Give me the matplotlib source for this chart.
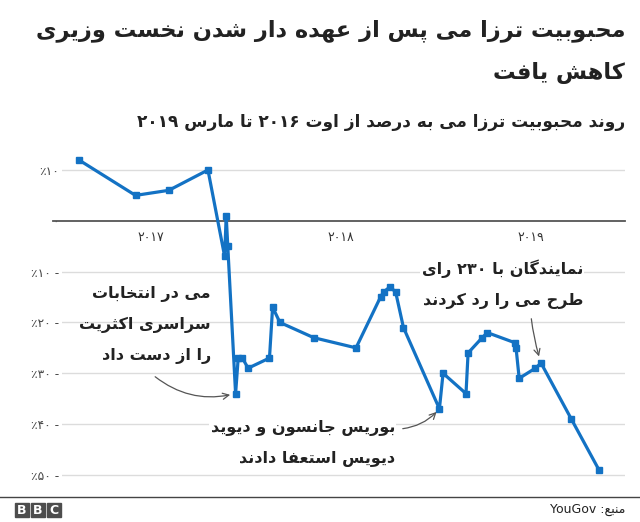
import re
import pandas as pd
import matplotlib
matplotlib.use('Agg')
import matplotlib.pyplot as plt
from matplotlib.lines import Line2D
from matplotlib.patches import Rectangle
from matplotlib.ticker import FuncFormatter

# net favourability of Theresa May (%)
dates = ['2016-08-16', '2016-12-03', '2017-02-05', '2017-04-21', '2017-05-23', '2017-05-26', '2017-05-29',
         '2017-06-13', '2017-06-18', '2017-06-26', '2017-07-07', '2017-08-17', '2017-08-23', '2017-09-06',
         '2017-11-10', '2018-01-30', '2018-03-18', '2018-03-24', '2018-04-05', '2018-04-16', '2018-05-01',
         '2018-07-09', '2018-07-16', '2018-08-29', '2018-09-02', '2018-09-29', '2018-10-09', '2018-12-01',
         '2018-12-03', '2018-12-09', '2019-01-09', '2019-01-20', '2019-03-19', '2019-05-11']
values = [12, 5, 6, 10, -7, 1, -5, -34, -27, -27, -29, -27, -17, -20, -23, -25, -15, -14, -13, -14, -21,
          -37, -30, -34, -26, -23, -22, -24, -25, -31, -29, -28, -39, -49]

year_ticks = ['2017-01-01', '2018-01-01', '2019-01-01']
year_labels = ['۲۰۱۷', '۲۰۱۸', '۲۰۱۹']
y_ticks = [10, 0, -10, -20, -30, -40, -50]

title = ['محبوبیت ترزا می پس از عهده دار شدن نخست وزیری', 'کاهش یافت']
subtitle = 'روند محبوبیت ترزا می به درصد از اوت ۲۰۱۶ تا مارس ۲۰۱۹'
source = 'منبع: YouGov'
note_election = 'می در انتخابات\nسراسری اکثریت\nرا از دست داد'
note_resign = 'بوریس جانسون و دیوید\nدیویس استعفا دادند'
note_vote = 'نمایندگان با ۲۳۰ رای\nطرح می را رد کردند'
i_election, i_resign, i_vote = 7, 21, 31

# matplotlib has no arabic shaping, so pick presentation forms by hand
DUAL = dict(zip('بتثجحخسشصضطظعغفقکگلمنهیپچ',
                [0xFE8F, 0xFE95, 0xFE99, 0xFE9D, 0xFEA1, 0xFEA5, 0xFEB1, 0xFEB5, 0xFEB9, 0xFEBD,
                 0xFEC1, 0xFEC5, 0xFEC9, 0xFECD, 0xFED1, 0xFED5, 0xFB8E, 0xFB92, 0xFEDD, 0xFEE1,
                 0xFEE5, 0xFEE9, 0xFBFC, 0xFB56, 0xFB7A]))
RIGHT = dict(zip('اآدذرزژو', [0xFE8D, 0xFE81, 0xFEA9, 0xFEAB, 0xFEAD, 0xFEAF, 0xFB8A, 0xFEED]))
LTR = '0-9A-Za-z۰-۹'


def shape(s):
    out = []
    for i, c in enumerate(s):
        base = DUAL.get(c, RIGHT.get(c))
        if base is None:
            out.append(c)
            continue
        prev = s[i - 1] if i > 0 else ''
        nxt = s[i + 1] if i + 1 < len(s) else ''
        a = prev in DUAL
        b = c in DUAL and (nxt in DUAL or nxt in RIGHT)
        out.append(chr(base + (3 if a and b else 2 if b else 1 if a else 0)))
    return ''.join(out)


def fa(text):
    lines = []
    for line in text.split('\n'):
        runs = re.findall('[%s]+|[^%s]+' % (LTR, LTR), shape(line))
        lines.append(''.join(r if re.match('[%s]' % LTR, r) else r[::-1] for r in reversed(runs)))
    return '\n'.join(lines)


def fa_digits(n):
    return ''.join('۰۱۲۳۴۵۶۷۸۹'[int(d)] for d in str(n))


def pct(v, pos):
    if v == 0:
        return '۰'
    if v > 0:
        return '٪' + fa_digits(int(v))
    return '٪' + fa_digits(int(-v)) + ' -'


plt.rcParams['font.family'] = ['DejaVu Sans']
W, H = 640, 522
fig = plt.figure(figsize=(6.4, 5.22), dpi=100)
ax = fig.add_axes([62 / W, (H - 480) / H, (625 - 62) / W, (480 - 140) / H])

x = pd.to_datetime(dates)
blue = '#1372c4'
ax.plot(x, values, color=blue, lw=2.3, marker='s', ms=3.8, solid_joinstyle='miter', zorder=3)

ax.set_xlim(pd.Timestamp('2016-07-15'), pd.Timestamp('2019-06-30'))
ax.set_ylim(-51, 15.9)
for s in ax.spines.values():
    s.set_visible(False)

for v in y_ticks:
    if v != 0:
        ax.axhline(v, color='#dcdcdc', lw=1, zorder=1)
ax.axhline(0, xmin=-0.016, color='#555555', lw=1.3, zorder=2, clip_on=False)

ax.set_yticks(y_ticks)
ax.yaxis.set_major_formatter(FuncFormatter(pct))
ax.tick_params(axis='y', length=0, pad=2, labelsize=8.8, labelcolor='#444444')
ax.set_xticks(pd.to_datetime(year_ticks))
ax.set_xticklabels([])
ax.tick_params(axis='x', length=0)
for d, lab in zip(pd.to_datetime(year_ticks), year_labels):
    ax.annotate(lab, (d, 0), xytext=(0, -7), textcoords='offset points',
                ha='center', va='top', fontsize=9, color='#333333')

# titles
fig.text(625 / W, 1 - 31 / H, fa(title[0]), ha='right', va='center',
         fontsize=16.2, fontweight='bold', color='#222222')
fig.text(625 / W, 1 - 73 / H, fa(title[1]), ha='right', va='center',
         fontsize=16.2, fontweight='bold', color='#222222')
fig.text(625 / W, 1 - 122 / H, fa(subtitle), ha='right', va='center',
         fontsize=12.2, fontweight='bold', color='#222222')

# annotations (inside the axes so the line stays on top of the white boxes)
note_kw = dict(ha='right', va='top', fontsize=11.5, fontweight='bold', color='#222222',
               linespacing=2.25, multialignment='right', transform=fig.transFigure, zorder=2)
box = dict(fc='white', ec='none', pad=1)
ax.text(211 / W, 1 - 286 / H, fa(note_election), **note_kw)
ax.text(583 / W, 1 - 259 / H, fa(note_vote), bbox=box, **note_kw)
ax.text(395 / W, 1 - 420 / H, fa(note_resign), bbox=box, **note_kw)

arrow = dict(arrowstyle='->', color='#555555', lw=0.9, mutation_scale=11)
ax.annotate('', xy=(x[i_election], values[i_election]), xytext=(153, H - 375), textcoords='figure pixels',
            arrowprops=dict(connectionstyle='arc3,rad=0.25', shrinkB=4, **arrow))
ax.annotate('', xy=(x[i_resign], values[i_resign]), xytext=(400, H - 429), textcoords='figure pixels',
            arrowprops=dict(connectionstyle='arc3,rad=0.2', shrinkB=3, **arrow))
ax.annotate('', xy=(x[i_vote], values[i_vote]), xytext=(531, H - 316), textcoords='figure pixels',
            arrowprops=dict(connectionstyle='arc3,rad=0.05', shrinkB=5, **arrow))

# footer
fig.add_artist(Line2D([0, 1], [1 - 497 / H] * 2, color='#444444', lw=1))
for k, ch in enumerate('BBC'):
    x0 = (15 + 16 * k) / W
    fig.add_artist(Rectangle((x0, 1 - 517 / H), 14 / W, 14 / H, color='#4d4d4d'))
    fig.text(x0 + 7 / W, 1 - 510 / H, ch, ha='center', va='center', color='white',
             fontsize=9, fontweight='bold')
fig.text(625 / W, 1 - 510 / H, fa(source), ha='right', va='center', fontsize=9, color='#222222')

fig.savefig('out.png', dpi=100)
